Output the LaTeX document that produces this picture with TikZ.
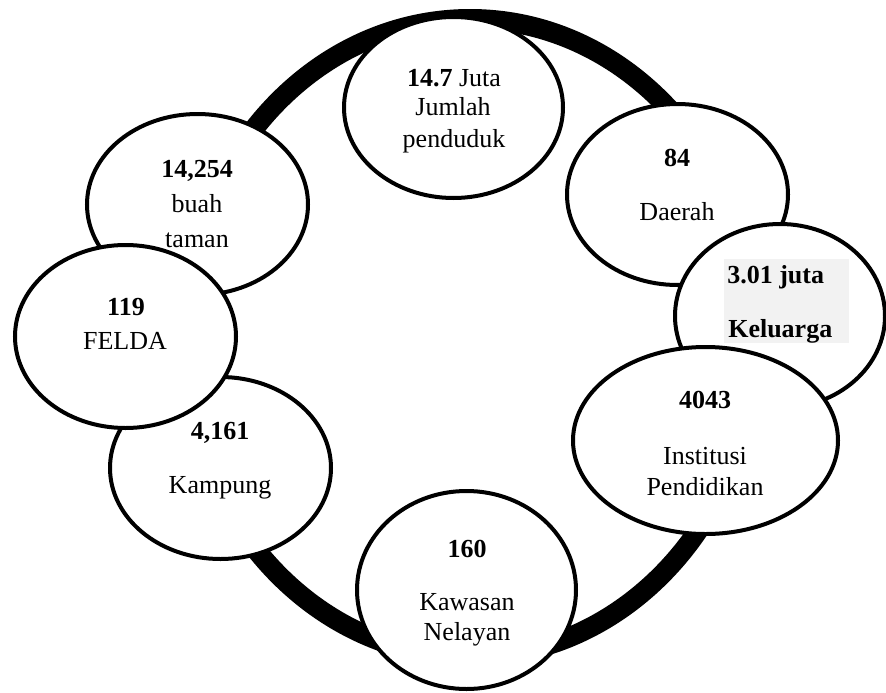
\documentclass[tikz,border=0pt]{standalone}
\usepackage{fontspec}
\setmainfont{Liberation Serif}
\usetikzlibrary{shapes.geometric}
\begin{document}
\begin{tikzpicture}[x=0.75pt,y=-0.75pt,
  bubble/.style={ellipse, draw=black, line width=3pt, fill=white, inner sep=0pt},
  ringstyle/.style={ellipse, draw=black, line width=15pt, inner sep=0pt},
  txt/.style={anchor=base, inner sep=0pt, font=\fontsize{19.5}{23}\selectfont},
  greybox/.style={fill=black!5, draw=none, inner sep=0pt, anchor=north west}]
\useasboundingbox (0,0) rectangle (886,693);
% ring
\node[ringstyle, minimum width=572*0.75pt, minimum height=638*0.75pt] (ring) at (470,338) {};
% bubbles
\node[bubble, minimum width=219*0.75pt, minimum height=181*0.75pt] (top) at (453.5,107.5) {};
\node[bubble, minimum width=221*0.75pt, minimum height=181*0.75pt] (daerah) at (677.5,194.5) {};
\node[bubble, minimum width=210*0.75pt, minimum height=184*0.75pt] (kel) at (780,316) {};
\node[greybox, minimum width=125*0.75pt, minimum height=84*0.75pt] (kelbox) at (724,259) {};
\node[bubble, minimum width=265*0.75pt, minimum height=187*0.75pt] (inst) at (705.5,440.5) {};
\node[bubble, minimum width=219*0.75pt, minimum height=198*0.75pt] (kaw) at (466.5,590) {};
\node[bubble, minimum width=221*0.75pt, minimum height=182*0.75pt] (kamp) at (220.5,468) {};
\node[bubble, minimum width=221*0.75pt, minimum height=181*0.75pt] (taman) at (197.5,204.5) {};
\node[bubble, minimum width=221*0.75pt, minimum height=183*0.75pt] (felda) at (125.5,336.5) {};
% texts
\node[txt] (t1) at (454,86) {\textbf{14.7} Juta};
\node[txt] (t2) at (453,115) {Jumlah};
\node[txt] (t3) at (454,147) {penduduk};
\node[txt] (d1) at (677,166) {\textbf{84}};
\node[txt] (d2) at (677,220) {Daerah};
\node[txt, anchor=base west] (k1) at (727,283) {\textbf{3.01 juta}};
\node[txt, anchor=base west] (k2) at (728,337) {\textbf{Keluarga}};
\node[txt] (i1) at (705,408) {\textbf{4043}};
\node[txt] (i2) at (705,464) {Institusi};
\node[txt] (i3) at (705,495) {Pendidikan};
\node[txt] (w1) at (467,557) {\textbf{160}};
\node[txt] (w2) at (467,610) {Kawasan};
\node[txt] (w3) at (467,640) {Nelayan};
\node[txt] (p1) at (220,439) {\textbf{4,161}};
\node[txt] (p2) at (220,493) {Kampung};
\node[txt] (f1) at (126,315) {\textbf{119}};
\node[txt] (f2) at (125,349) {FELDA};
\node[txt] (b1) at (197,177) {\textbf{14,254}};
\node[txt] (b2) at (197,212) {buah};
\node[txt] (b3) at (197,247) {taman};
\end{tikzpicture}
\end{document}
